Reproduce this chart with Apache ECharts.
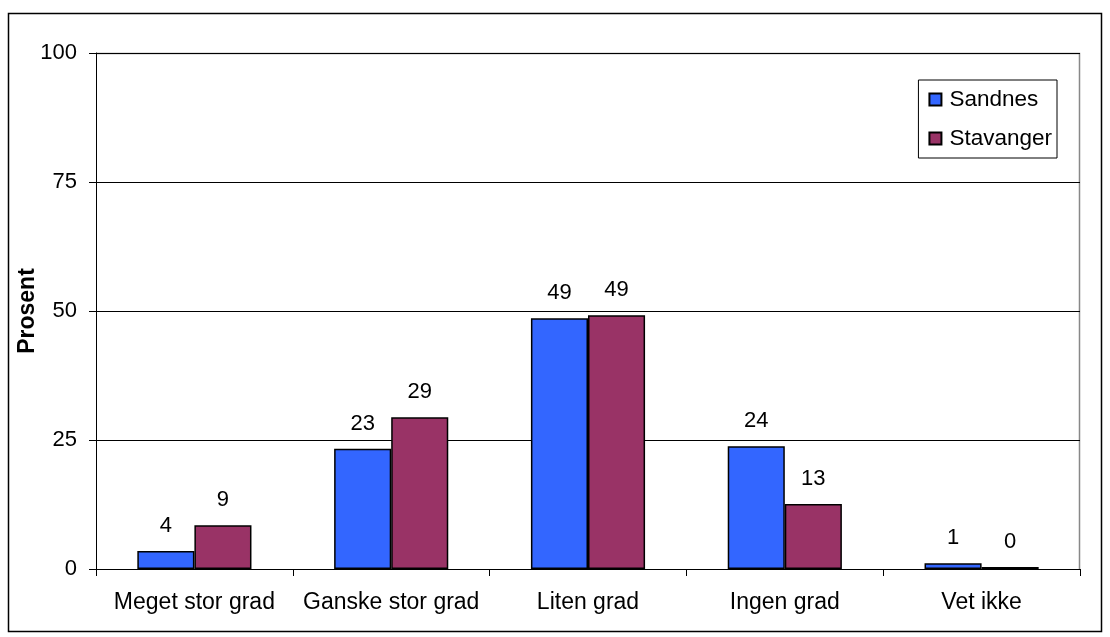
<!DOCTYPE html>
<html>
<head>
<meta charset="utf-8">
<script src="https://cdn.jsdelivr.net/npm/echarts@6/dist/echarts.min.js"></script>
<style>
  html, body { margin: 0; padding: 0; background: #fff; }
  #chart { width: 1110px; height: 637px; }
</style>
</head>
<body>
<div id="chart"></div>
<script>
// Answer categories along the x axis
const categories = ['Meget stor grad', 'Ganske stor grad', 'Liten grad', 'Ingen grad', 'Vet ikke'];
// Share of respondents (percent) per municipality
const sandnes = [3.5, 23.3, 48.6, 23.8, 1.1];
const stavanger = [8.5, 29.4, 49.2, 12.6, 0.4];
// Y axis ticks
const yTicks = [0, 25, 50, 75, 100];

const FONT = '"Liberation Sans", Arial, sans-serif';
const FS_NUM = 22;   // numbers: tick and value labels
const FS_TXT = 23;   // words: category labels, axis name
const FS_LEG = 22.5; // legend entries

const chart = echarts.init(document.getElementById('chart'), null, { renderer: 'canvas' });

const labelStyle = {
  show: true,
  position: 'top',
  distance: 14,
  color: '#000',
  fontSize: FS_NUM,
  fontFamily: FONT,
  formatter: p => Math.round(p.value)
};

chart.setOption({
  animation: false,
  backgroundColor: '#fff',
  textStyle: { fontFamily: FONT },
  graphic: [{
    type: 'rect',
    shape: { x: 8.5, y: 13.5, width: 1093, height: 618 },
    style: { fill: 'none', stroke: '#000', lineWidth: 1.5 },
    silent: true,
    z: -1
  }, {
    // plot area frame (top and right edges)
    type: 'polyline',
    shape: { points: [[96, 53.5], [1079.5, 53.5], [1079.5, 569]] },
    style: { stroke: '#888', lineWidth: 1.5, fill: 'none' },
    silent: true,
    z: 0
  }],
  grid: { left: 96, right: 30, top: 53, bottom: 68, containLabel: false },
  legend: {
    orient: 'vertical',
    right: 53,
    top: 80,
    icon: 'rect',
    itemWidth: 12,
    itemHeight: 12,
    itemGap: 16,
    padding: [8, 5, 8, 10],
    borderColor: '#000',
    borderWidth: 1,
    textStyle: { fontSize: FS_LEG, color: '#000', fontFamily: FONT, padding: [0, 0, 0, 3] },
    data: ['Sandnes', 'Stavanger']
  },
  xAxis: {
    type: 'category',
    data: categories,
    axisLine: { lineStyle: { color: '#000', width: 1 } },
    axisTick: { show: true, length: 7, inside: false, lineStyle: { color: '#000' } },
    axisLabel: { color: '#000', fontSize: FS_TXT, fontFamily: FONT, margin: 22, interval: 0 },
    splitLine: { show: false }
  },
  yAxis: {
    type: 'value',
    min: yTicks[0],
    max: yTicks[yTicks.length - 1],
    interval: 25,
    name: 'Prosent',
    nameLocation: 'middle',
    nameGap: 57,
    nameRotate: 90,
    nameMoveOverlap: false,
    nameTextStyle: { fontSize: FS_TXT, fontWeight: 'bold', color: '#000', fontFamily: FONT },
    axisLine: { show: true, lineStyle: { color: '#000', width: 1 } },
    axisTick: { show: true, length: 7, lineStyle: { color: '#000' } },
    axisLabel: { color: '#000', fontSize: FS_NUM, fontFamily: FONT, margin: 19 },
    splitLine: { show: true, lineStyle: { color: '#000', width: 1 } }
  },
  series: [{
    name: 'Sandnes',
    type: 'bar',
    data: sandnes,
    barGap: '0%',
    barCategoryGap: '42%',
    itemStyle: { color: '#3366FF', borderColor: '#000', borderWidth: 1.5 },
    label: labelStyle
  }, {
    name: 'Stavanger',
    type: 'bar',
    data: stavanger,
    itemStyle: { color: '#993366', borderColor: '#000', borderWidth: 1.5 },
    label: labelStyle
  }]
});
</script>
</body>
</html>
